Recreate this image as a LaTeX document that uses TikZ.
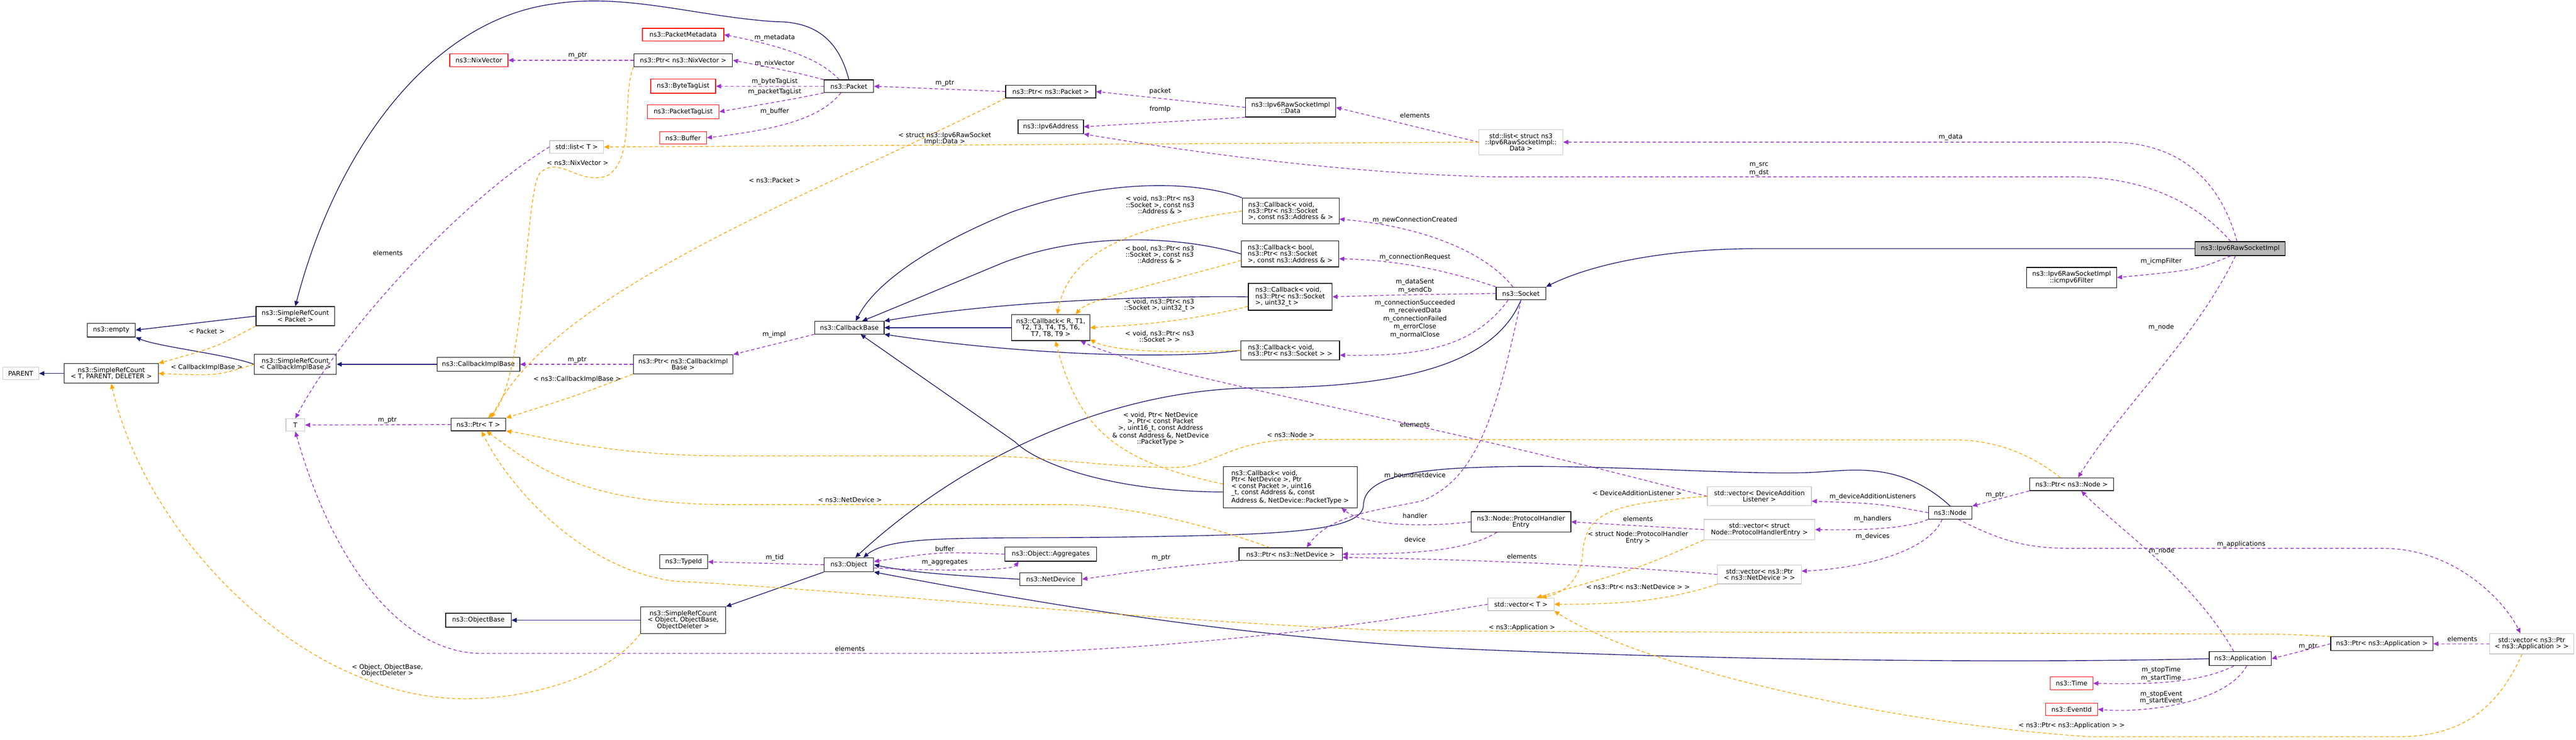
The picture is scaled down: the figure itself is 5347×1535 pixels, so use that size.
\documentclass[tikz,border=0pt]{standalone}
\usepackage{fontspec}
\setmainfont{DejaVu Sans}
\usetikzlibrary{arrows.meta}
\definecolor{navyc}{HTML}{191970}
\definecolor{purp}{HTML}{9A32CD}
\definecolor{orng}{HTML}{FFA500}
\newcommand{\fs}{\fontsize{4}{3.95}\selectfont}
\tikzset{
  box/.style={draw=black, line width=0.4pt, fill=white, font=\fs, align=center, inner xsep=1.5pt, inner ysep=2.4pt},
  gbox/.style={box, draw=gray!45},
  rbox/.style={box, draw=red},
  wd/.style={minimum width=#1*0.3pt},
  lbl/.style={font=\fs, align=center, inner sep=0pt},
  inh/.style={draw=navyc, line width=0.45pt, -{Triangle[length=3.2pt,width=2.8pt]}},
  use/.style={draw=purp, line width=0.45pt, dash pattern=on 2pt off 1.5pt, -{Triangle[length=3.2pt,width=2.8pt]}},
  tmpl/.style={draw=orng, line width=0.45pt, dash pattern=on 2pt off 1.5pt, -{Triangle[length=3.2pt,width=2.8pt]}},
}
\begin{document}
\begin{tikzpicture}[x=0.3pt,y=-0.3pt]
\useasboundingbox (0,0) rectangle (5347,1535);
% ---------- nodes
\node[box, fill=gray!55, wd=187] (impl) at (4650,516) {ns3::Ipv6RawSocketImpl};
\node[box, wd=187] (icmp) at (4300,576) {ns3::Ipv6RawSocketImpl\\::icmpv6Filter};
\node[box, wd=103] (socket) at (3157,609) {ns3::Socket};
\node[box, wd=201, align=left] (cbNew) at (2679,438) {ns3::Callback< void,\\ ns3::Ptr< ns3::Socket\\ >, const ns3::Address \& >};
\node[box, wd=202, align=left] (cbReq) at (2678,527) {ns3::Callback< bool,\\ ns3::Ptr< ns3::Socket\\ >, const ns3::Address \& >};
\node[box, wd=174, align=left] (cbU32) at (2678,616) {ns3::Callback< void,\\ ns3::Ptr< ns3::Socket\\ >, uint32\_t >};
\node[box, wd=205, align=left] (cbSock) at (2678,727) {ns3::Callback< void,\\ ns3::Ptr< ns3::Socket > >};
\node[box, wd=278, align=left] (cbDev) at (2678,1011) {ns3::Callback< void,\\ Ptr< NetDevice >, Ptr\\ < const Packet >, uint16\\ \_t, const Address \&, const\\ Address \&, NetDevice::PacketType >};
\node[box, wd=162] (cbR) at (2181,680) {ns3::Callback< R, T1,\\T2, T3, T4, T5, T6,\\T7, T8, T9 >};
\node[box, wd=144] (cbBase) at (1763,680) {ns3::CallbackBase};
\node[box, wd=207] (ptrCIB) at (1418,756) {ns3::Ptr< ns3::CallbackImpl\\Base >};
\node[box, wd=172] (cib) at (993,756) {ns3::CallbackImplBase};
\node[box, wd=170] (srcCIB) at (613,756) {ns3::SimpleRefCount\\< CallbackImplBase >};
\node[box, wd=163] (srcPkt) at (613,656) {ns3::SimpleRefCount\\< Packet >};
\node[box, wd=100] (empty) at (231,685) {ns3::empty};
\node[box, wd=195] (srcT) at (231,775) {ns3::SimpleRefCount\\< T, PARENT, DELETER >};
\node[gbox, wd=75] (parent) at (43,775) {PARENT};
\node[gbox, wd=39] (T) at (613,882) {T};
\node[box, wd=114] (ptrT) at (993,881) {ns3::Ptr< T >};
\node[gbox, wd=112] (listT) at (1197,305) {std::list< T >};
\node[rbox, wd=121] (nix) at (994,125) {ns3::NixVector};
\node[box, wd=205] (ptrNix) at (1418,125) {ns3::Ptr< ns3::NixVector >};
\node[rbox, wd=169] (meta) at (1418,72) {ns3::PacketMetadata};
\node[rbox, wd=135] (btl) at (1418,179) {ns3::ByteTagList};
\node[rbox, wd=149] (ptl) at (1418,232) {ns3::PacketTagList};
\node[rbox, wd=97] (buf) at (1418,286) {ns3::Buffer};
\node[box, wd=103] (packet) at (1762,179) {ns3::Packet};
\node[box, wd=187] (ptrPacket) at (2181,190) {ns3::Ptr< ns3::Packet >};
\node[box, wd=136] (addr) at (2181,263) {ns3::Ipv6Address};
\node[box, wd=187] (data) at (2679,223) {ns3::Ipv6RawSocketImpl\\::Data};
\node[gbox, wd=174] (listData) at (3157,295) {std::list< struct ns3\\::Ipv6RawSocketImpl::\\Data >};
\node[box, wd=103] (object) at (1762,1172) {ns3::Object};
\node[box, wd=100] (typeid) at (1419,1166) {ns3::TypeId};
\node[box, wd=136] (objbase) at (993,1287) {ns3::ObjectBase};
\node[box, wd=177] (srcObj) at (1418,1287) {ns3::SimpleRefCount\\< Object, ObjectBase,\\ObjectDeleter >};
\node[box, wd=191] (aggr) at (2181,1150) {ns3::Object::Aggregates};
\node[box, wd=129] (netdev) at (2181,1202) {ns3::NetDevice};
\node[box, wd=214] (ptrND) at (2679,1150) {ns3::Ptr< ns3::NetDevice >};
\node[box, wd=207] (phe) at (3157,1083) {ns3::Node::ProtocolHandler\\Entry};
\node[gbox, wd=216] (vDAL) at (3652,1030) {std::vector< DeviceAddition\\Listener >};
\node[gbox, wd=230] (vPHE) at (3652,1099) {std::vector< struct\\Node::ProtocolHandlerEntry >};
\node[gbox, wd=174] (vND) at (3652,1192) {std::vector< ns3::Ptr\\< ns3::NetDevice > >};
\node[gbox, wd=137] (vT) at (3157,1254) {std::vector< T >};
\node[box, wd=90] (node) at (4048,1064) {ns3::Node};
\node[box, wd=175] (ptrNode) at (4300,1005) {ns3::Ptr< ns3::Node >};
\node[box, wd=129] (app) at (4650,1367) {ns3::Application};
\node[box, wd=212] (ptrApp) at (4944,1336) {ns3::Ptr< ns3::Application >};
\node[gbox, wd=174] (vApp) at (5255,1336) {std::vector< ns3::Ptr\\< ns3::Application > >};
\node[rbox, wd=88] (time) at (4300,1418) {ns3::Time};
\node[rbox, wd=108] (eventid) at (4300,1472) {ns3::EventId};
% ---------- inheritance
\draw[inh] (srcPkt.west) -- (empty.east);
\draw[inh] (srcCIB.west) .. controls (470,735) and (330,720) .. (empty.south east);
\draw[inh] (srcT.west) -- (parent.east);
\draw[inh] (cib.west) -- (srcCIB.east);
\draw[inh] (packet.north) .. controls (1740,80) and (1690,45) .. (1610,45) .. controls (1450,35) and (1300,-15) .. (1150,8) .. controls (900,40) and (700,300) .. (srcPkt.north);
\draw[inh] (srcObj.west) -- (objbase.east);
\draw[inh] (object.south west) -- (srcObj.north east);
\draw[inh] (netdev.west) .. controls (2000,1195) and (1900,1190) .. (object.east);
\draw[inh] (socket.south) .. controls (3100,760) and (2900,805) .. (2600,805) .. controls (2300,810) and (2000,950) .. ([xshift=4pt]object.north);
\draw[inh] (node.north) .. controls (3950,960) and (3850,975) .. (3782,979) .. controls (3650,990) and (3300,960) .. (3068,970) .. controls (2900,975) and (2830,1000) .. (2830,1050) .. controls (2826,1110) and (2600,1110) .. (2300,1115) .. controls (2000,1118) and (1850,1110) .. ([xshift=9pt]object.north);
\draw[inh] (app.west) .. controls (4200,1376) and (3600,1372) .. (3000,1345) .. controls (2600,1321) and (2250,1270) .. (object.south east);
\draw[inh] (impl.west) -- (3650,516) .. controls (3450,516) and (3300,550) .. (socket.north east);
\draw[inh] (cbNew.north west) .. controls (2480,375) and (2300,370) .. (2100,440) .. controls (1950,500) and (1820,580) .. ([xshift=4pt]cbBase.north);
\draw[inh] (cbReq.west) .. controls (2450,490) and (2250,480) .. (2080,546) .. controls (1950,600) and (1830,650) .. ([xshift=8pt]cbBase.north);
\draw[inh] (cbU32.west) .. controls (2450,614) and (2100,620) .. (cbBase.north east);
\draw[inh] (cbR.west) -- (cbBase.east);
\draw[inh] (cbSock.west) .. controls (2450,745) and (2150,740) .. (cbBase.south east);
\draw[inh] ([yshift=-3pt]cbDev.west) .. controls (2300,1020) and (2150,960) .. (2107,917) -- ([xshift=7pt]cbBase.south);
% ---------- usage
\draw[use] (ptrNix.west) -- (nix.east);
\draw[use] ([xshift=-6pt]packet.north) .. controls (1700,120) and (1620,95) .. (meta.east);
\draw[use] (packet.north west) .. controls (1650,150) .. (ptrNix.east);
\draw[use] (packet.west) -- (btl.east);
\draw[use] (packet.south west) .. controls (1650,205) .. (ptl.east);
\draw[use] ([xshift=-5pt]packet.south) .. controls (1700,250) and (1600,270) .. (buf.east);
\draw[use] (ptrPacket.west) -- (packet.east);
\draw[use] (data.west) -- (ptrPacket.east);
\draw[use] (data.south west) -- (addr.east);
\draw[use] (listData.west) -- (data.east);
\draw[use] ([xshift=-2pt]impl.north) .. controls (4610,380) and (4530,295) .. (4378,295) -- (listData.east);
\draw[use] ([xshift=-6pt]impl.north) .. controls (4560,420) and (4450,367) .. (4300,367) -- (3100,367) .. controls (2800,360) and (2500,320) .. (addr.south east);
\draw[use] ([xshift=-6pt]impl.south) .. controls (4560,560) .. (icmp.east);
\draw[use] ([xshift=-3pt]impl.south) .. controls (4560,700) and (4400,850) .. ([xshift=4pt]ptrNode.north);
\draw[use] ([xshift=-5pt]socket.north) .. controls (3080,520) and (2950,470) .. ([yshift=-5pt]cbNew.east);
\draw[use] (socket.north west) .. controls (3000,560) and (2900,540) .. ([yshift=-3pt]cbReq.east);
\draw[use] (socket.west) .. controls (2900,612) .. (cbU32.east);
\draw[use] ([xshift=-8pt]socket.south) .. controls (3060,720) and (2950,740) .. ([yshift=-3pt]cbSock.east);
\draw[use] (socket.south) .. controls (3100,900) and (3050,1000) .. (2950,1040) .. controls (2850,1060) and (2760,1070) .. ([xshift=10pt]ptrND.north);
\draw[use] (phe.west) .. controls (2950,1095) and (2830,1090) .. ([xshift=-10pt]cbDev.south east);
\draw[use] ([xshift=-15pt]phe.south) .. controls (3050,1140) and (2950,1150) .. (ptrND.east);
\draw[use] (vND.west) .. controls (3300,1170) and (3000,1160) .. ([yshift=-2pt]ptrND.east);
\draw[use] (vPHE.west) -- (phe.east);
\draw[use] (vDAL.west) .. controls (2900,860) and (2400,780) .. ([xshift=-6pt]cbR.south east);
\draw[use] (node.west) .. controls (3900,1045) .. ([yshift=-3pt]vDAL.east);
\draw[use] (node.south west) .. controls (3950,1100) and (3850,1100) .. (vPHE.east);
\draw[use] ([xshift=-5pt]node.south) .. controls (4000,1150) and (3850,1180) .. ([yshift=2pt]vND.east);
\draw[use] (ptrNode.south west) -- (node.north east);
\draw[use] ([xshift=5pt]node.south) .. controls (4150,1120) and (4200,1138) .. (4300,1138) -- (4950,1138) .. controls (5100,1140) and (5200,1250) .. ([xshift=-7pt]vApp.north);
\draw[use] ([xshift=-4pt]app.north) .. controls (4550,1200) and (4400,1100) .. ([xshift=6pt]ptrNode.south);
\draw[use] ([xshift=-4pt]app.south) .. controls (4560,1420) and (4450,1420) .. (time.east);
\draw[use] ([xshift=4pt]app.south) .. controls (4620,1460) and (4450,1480) .. (eventid.east);
\draw[use] (ptrApp.west) -- (app.east);
\draw[use] (vApp.west) -- (ptrApp.east);
\draw[use] (ptrCIB.west) -- (cib.east);
\draw[use] (cbBase.south west) -- (ptrCIB.north east);
\draw[use] (ptrT.west) -- (T.east);
\draw[use] (listT.west) .. controls (950,420) and (700,700) .. (T.north);
\draw[use] (vT.west) .. controls (2700,1320) and (2300,1355) .. (2000,1356) -- (1000,1356) .. controls (850,1356) and (700,1200) .. (T.south);
\draw[use] (object.west) -- (typeid.east);
\draw[use] ([yshift=-2pt]object.east) .. controls (1950,1185) and (2100,1185) .. ([xshift=-20pt]aggr.south);
\draw[use] (aggr.west) .. controls (1950,1145) .. ([yshift=2pt]object.east);
\draw[use] (ptrND.south west) .. controls (2400,1180) .. (netdev.east);
% ---------- template
\draw[tmpl] (srcPkt.south west) .. controls (450,720) .. (srcT.north east);
\draw[tmpl] (srcCIB.west) .. controls (450,780) .. (srcT.east);
\draw[tmpl] (srcObj.south west) .. controls (1250,1420) and (1050,1460) .. (919,1448) .. controls (600,1420) and (300,1100) .. (srcT.south);
\draw[tmpl] (ptrNix.south west) .. controls (1290,200) and (1320,330) .. (1260,365) .. controls (1200,385) and (1160,320) .. (1120,360) .. controls (1090,400) and (1090,800) .. ([xshift=6pt]ptrT.north);
\draw[tmpl] (ptrPacket.south west) .. controls (1700,400) and (1150,600) .. ([xshift=8pt]ptrT.north);
\draw[tmpl] (listData.west) -- (listT.east);
\draw[tmpl] (ptrCIB.south west) .. controls (1200,820) .. (ptrT.north east);
\draw[tmpl] ([xshift=-13pt]ptrND.north) .. controls (2450,1070) and (2300,1048) .. (2213,1047) -- (1500,1047) .. controls (1200,1045) and (1100,960) .. ([xshift=5pt]ptrT.south);
\draw[tmpl] ([xshift=-7pt]ptrNode.north) .. controls (4200,930) and (4120,913) .. (4059,913) -- (2700,912) .. controls (2550,912) and (2520,970) .. (2437,970) .. controls (2300,970) and (2150,946) .. (2036,946) -- (1500,946) .. controls (1250,945) and (1100,900) .. (ptrT.south east);
\draw[tmpl] (ptrApp.north west) .. controls (4750,1316) .. (4650,1316) -- (2900,1309) .. controls (2400,1290) and (1700,1220) .. (1400,1206) .. controls (1200,1180) and (1050,1000) .. ([xshift=2pt]ptrT.south);
\draw[tmpl] (cbNew.west) .. controls (2350,470) and (2220,520) .. ([xshift=4pt]cbR.north);
\draw[tmpl] ([yshift=-4pt]cbReq.west) .. controls (2400,590) and (2260,620) .. ([xshift=-9pt]cbR.north east);
\draw[tmpl] ([yshift=-6pt]cbU32.west) .. controls (2450,670) and (2350,675) .. (cbR.east);
\draw[tmpl] (cbSock.west) .. controls (2400,735) and (2300,725) .. ([yshift=1pt]cbR.south east);
\draw[tmpl] ([yshift=2pt]cbDev.west) .. controls (2330,960) and (2240,900) .. ([xshift=3pt]cbR.south);
\draw[tmpl] (vDAL.west) .. controls (3350,1045) and (3290,1060) .. (3285,1150) .. controls (3280,1200) and (3250,1230) .. ([xshift=-8pt]vT.north east);
\draw[tmpl] (vPHE.south west) .. controls (3400,1180) .. ([xshift=-11pt]vT.north east);
\draw[tmpl] (vND.south west) .. controls (3450,1250) and (3350,1254) .. (vT.east);
\draw[tmpl] ([xshift=-6pt]vApp.south) .. controls (5180,1480) and (5100,1529) .. (4975,1529) -- (4339,1529) .. controls (3900,1500) and (3400,1380) .. (vT.south east);
% ---------- labels
\node[lbl] (l1) at (429,687) {< Packet >};
\node[lbl] (l2) at (429,763) {< CallbackImplBase >};
\node[lbl] (l3) at (805,525) {elements};
\node[lbl] (l4) at (1608,78) {m\_metadata};
\node[lbl] (l5) at (1608,132) {m\_nixVector};
\node[lbl] (l6) at (1608,169) {m\_byteTagList};
\node[lbl] (l7) at (1608,191) {m\_packetTagList};
\node[lbl] (l8) at (1608,231) {m\_buffer};
\node[lbl] (l9) at (1199,115) {m\_ptr};
\node[lbl] (l10) at (1961,173) {m\_ptr};
\node[lbl] (l11) at (1961,288) {< struct ns3::Ipv6RawSocket\\Impl::Data >};
\node[lbl] (l12) at (1199,338) {< ns3::NixVector >};
\node[lbl] (l13) at (1608,374) {< ns3::Packet >};
\node[lbl] (l14) at (2408,189) {packet};
\node[lbl] (l15) at (2408,227) {fromIp};
\node[lbl] (l16) at (2937,239) {elements};
\node[lbl] (l17) at (4049,285) {m\_data};
\node[lbl] (l18) at (3651,351) {m\_src\\m\_dst};
\node[lbl] (l19) at (4486,542) {m\_icmpFilter};
\node[lbl] (l20) at (4486,679) {m\_node};
\node[lbl] (l21) at (2937,457) {m\_newConnectionCreated};
\node[lbl] (l22) at (2937,534) {m\_connectionRequest};
\node[lbl] (l23) at (2937,594) {m\_dataSent\\m\_sendCb};
\node[lbl] (l24) at (2937,662) {m\_connectionSucceeded\\m\_receivedData\\m\_connectionFailed\\m\_errorClose\\m\_normalClose};
\node[lbl] (l25) at (2408,425) {< void, ns3::Ptr< ns3\\::Socket >, const ns3\\::Address \& >};
\node[lbl] (l26) at (2407,528) {< bool, ns3::Ptr< ns3\\::Socket >, const ns3\\::Address \& >};
\node[lbl] (l27) at (2407,633) {< void, ns3::Ptr< ns3\\::Socket >, uint32\_t >};
\node[lbl] (l28) at (2407,698) {< void, ns3::Ptr< ns3\\::Socket > >};
\node[lbl] (l29) at (2409,890) {< void, Ptr< NetDevice\\>, Ptr< const Packet\\>, uint16\_t, const Address\\\& const Address \&, NetDevice\\::PacketType >};
\node[lbl] (l30) at (2679,902) {< ns3::Node >};
\node[lbl] (l31) at (2937,881) {elements};
\node[lbl] (l32) at (1607,694) {m\_impl};
\node[lbl] (l33) at (1198,747) {m\_ptr};
\node[lbl] (l34) at (1198,787) {< ns3::CallbackImplBase >};
\node[lbl] (l35) at (804,872) {m\_ptr};
\node[lbl] (l36) at (1764,1037) {< ns3::NetDevice >};
\node[lbl] (l37) at (804,1391) {< Object, ObjectBase,\\ObjectDeleter >};
\node[lbl] (l38) at (1608,1157) {m\_tid};
\node[lbl] (l39) at (1961,1139) {buffer};
\node[lbl] (l40) at (1961,1167) {m\_aggregates};
\node[lbl] (l41) at (2410,1158) {m\_ptr};
\node[lbl] (l42) at (1764,1346) {elements};
\node[lbl] (l43) at (2937,987) {m\_boundnetdevice};
\node[lbl] (l44) at (2937,1070) {handler};
\node[lbl] (l45) at (2937,1119) {device};
\node[lbl] (l46) at (3159,1155) {elements};
\node[lbl] (l47) at (3398,1023) {< DeviceAdditionListener >};
\node[lbl] (l48) at (3400,1077) {elements};
\node[lbl] (l49) at (3400,1116) {< struct Node::ProtocolHandler\\Entry >};
\node[lbl] (l50) at (3400,1218) {< ns3::Ptr< ns3::NetDevice > >};
\node[lbl] (l51) at (3159,1303) {< ns3::Application >};
\node[lbl] (l52) at (3887,1031) {m\_deviceAdditionListeners};
\node[lbl] (l53) at (3887,1077) {m\_handlers};
\node[lbl] (l54) at (3887,1114) {m\_devices};
\node[lbl] (l55) at (4141,1027) {m\_ptr};
\node[lbl] (l56) at (4652,1129) {m\_applications};
\node[lbl] (l57) at (4487,1143) {m\_node};
\node[lbl] (l58) at (4791,1342) {m\_ptr};
\node[lbl] (l59) at (5111,1326) {elements};
\node[lbl] (l60) at (4486,1399) {m\_stopTime\\m\_startTime};
\node[lbl] (l61) at (4486,1448) {m\_stopEvent\\m\_startEvent};
\node[lbl] (l62) at (4300,1506) {< ns3::Ptr< ns3::Application > >};
\end{tikzpicture}
\end{document}
